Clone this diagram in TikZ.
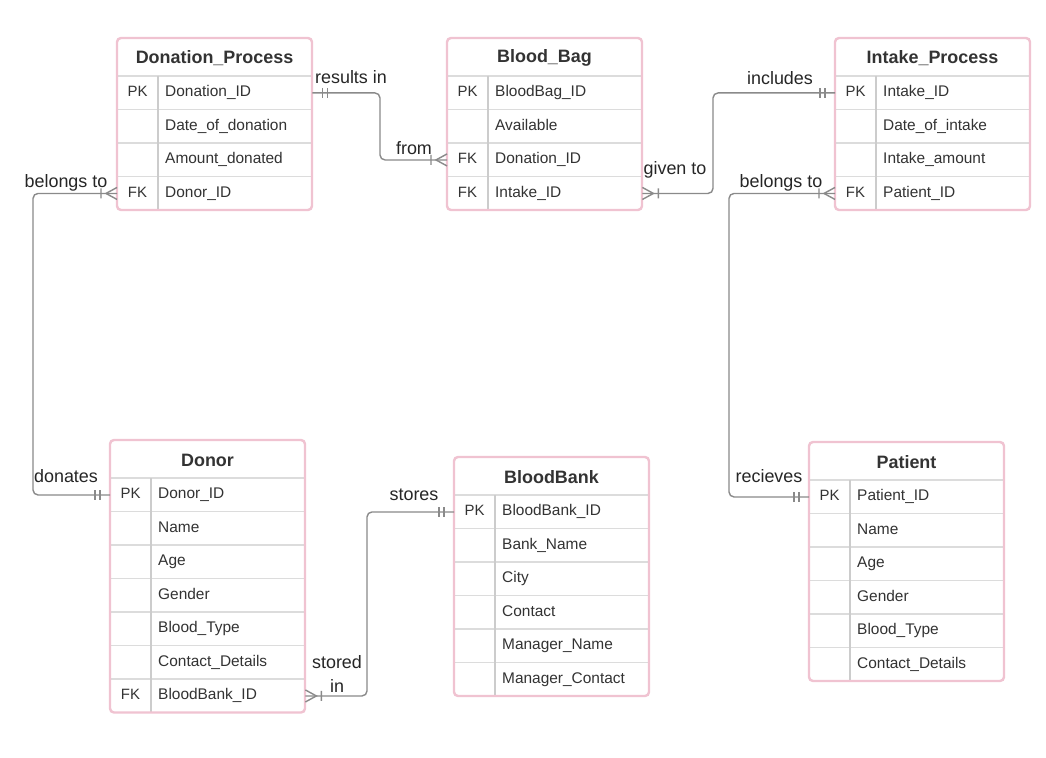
\documentclass[tikz,border=0pt]{standalone}
\usepackage{fontspec}
\setmainfont{Liberation Sans}
\usetikzlibrary{calc}
\definecolor{pinkb}{HTML}{F0C3D1}
\definecolor{rowg}{HTML}{DCDCDC}
\definecolor{keyg}{HTML}{CCCCCC}
\definecolor{txt}{HTML}{333333}
\definecolor{cong}{HTML}{8A8A8A}
\tikzset{
  tabtitle/.style={font=\fontsize{18}{21}\selectfont\bfseries, text=txt, inner sep=0},
  keytext/.style={font=\fontsize{15}{17}\selectfont, text=txt, inner sep=0, text height=11bp, text depth=3bp},
  fieldtext/.style={font=\fontsize{15.5}{17}\selectfont, text=txt, inner sep=0, anchor=west, text height=11bp, text depth=3bp},
  reltext/.style={font=\fontsize{18}{25}\selectfont, text=black!85, inner sep=0, align=center},
  rowbox/.style={minimum width=195bp, minimum height=33.5bp, inner sep=0, anchor=north west},
  border/.style={draw=pinkb, line width=2.4bp, rounded corners=4bp},
  rowline/.style={draw=rowg, line width=1.2bp},
  keyline/.style={draw=keyg, line width=1.2bp},
  conn/.style={draw=cong, line width=1.4bp},
  mone/.pic={\draw[conn] (10,-5)--(10,5) (15,-5)--(15,5);},
  many/.pic={\draw[conn] (0,-6)--(11,0)--(0,6) (16,-5)--(16,5);}
}
\newcommand{\ertable}[6]{%
  \pgfmathsetmacro\tbot{#3+38+#4*33.5}%
  \fill[white] (#2,#3) rectangle (#2+195,\tbot);
  \node[tabtitle] (#1) at (#2+97.5,#3+20) {#5};
  \foreach \k/\f [count=\i] in {#6} {
    \node[rowbox] (#1-\i) at (#2,#3+38+\i*33.5-33.5) {};
    \node[keytext] at ([xshift=20.5bp]#1-\i.west) {\k};
    \node[fieldtext] at ([xshift=48bp]#1-\i.west) {\f};
    \draw[rowline] (#1-\i.north west) -- (#1-\i.north east);
  }
  \draw[keyline] (#2+41,#3+38) -- (#2+41,\tbot);
  \draw[border] (#2,#3) rectangle (#2+195,\tbot);
}
\begin{document}
\begin{tikzpicture}[x=1bp,y=-1bp]
\fill[white] (0,0) rectangle (1046,758);
\useasboundingbox (0,0) rectangle (1046,758);

\ertable{dp}{117}{38}{4}{Donation\_Process}{PK/Donation\_ID,{}/Date\_of\_donation,{}/Amount\_donated,FK/Donor\_ID}
\ertable{bb}{447}{38}{4}{Blood\_Bag}{PK/BloodBag\_ID,{}/Available,FK/Donation\_ID,FK/Intake\_ID}
\ertable{ip}{835}{38}{4}{Intake\_Process}{PK/Intake\_ID,{}/Date\_of\_intake,{}/Intake\_amount,FK/Patient\_ID}
\ertable{dn}{110}{440}{7}{Donor}{PK/Donor\_ID,{}/Name,{}/Age,{}/Gender,{}/Blood\_Type,{}/Contact\_Details,FK/BloodBank\_ID}
\ertable{bk}{454}{457}{6}{BloodBank}{PK/BloodBank\_ID,{}/Bank\_Name,{}/City,{}/Contact,{}/Manager\_Name,{}/Manager\_Contact}
\ertable{pt}{809}{442}{6}{Patient}{PK/Patient\_ID,{}/Name,{}/Age,{}/Gender,{}/Blood\_Type,{}/Contact\_Details}

\coordinate (c1) at (380,0);
\coordinate (c2) at (713,0);
\coordinate (c3) at (729,0);
\coordinate (c4) at (33,0);
\coordinate (c5) at (367,0);

\draw[conn, rounded corners=5bp] (dp-1.east) -- (dp-1.east -| c1) -- (bb-3.west -| c1) -- (bb-3.west);
\pic at (dp-1.east) {mone};
\pic[rotate=180] at (bb-3.west) {many};

\draw[conn, rounded corners=5bp] (bb-4.east) -- (bb-4.east -| c2) -- (ip-1.west -| c2) -- (ip-1.west);
\pic at (bb-4.east) {many};
\pic[rotate=180] at (ip-1.west) {mone};

\draw[conn, rounded corners=5bp] (ip-4.west) -- (ip-4.west -| c3) -- (pt-1.west -| c3) -- (pt-1.west);
\pic[rotate=180] at (ip-4.west) {many};
\pic[rotate=180] at (pt-1.west) {mone};

\draw[conn, rounded corners=5bp] (dp-4.west) -- (dp-4.west -| c4) -- (dn-1.west -| c4) -- (dn-1.west);
\pic[rotate=180] at (dp-4.west) {many};
\pic[rotate=180] at (dn-1.west) {mone};

\draw[conn, rounded corners=5bp] (dn-7.east) -- (dn-7.east -| c5) -- (bk-1.west -| c5) -- (bk-1.west);
\pic at (dn-7.east) {many};
\pic[rotate=180] at (bk-1.west) {mone};

\node[reltext] (l1) at (351,77) {results in};
\node[reltext] (l2) at (414,148) {from};
\node[reltext] (l3) at (675,170) {given to};
\node[reltext] (l4) at (780,78) {includes};
\node[reltext] (l5) at (781,183) {belongs to};
\node[reltext] (l6) at (66,183) {belongs to};
\node[reltext] (l7) at (66,476) {donates};
\node[reltext] (l8) at (769,476) {recieves};
\node[reltext] (l9) at (414,495) {stores};
\node[reltext] (l10) at (337,674) {stored\\in};
\end{tikzpicture}
\end{document}
